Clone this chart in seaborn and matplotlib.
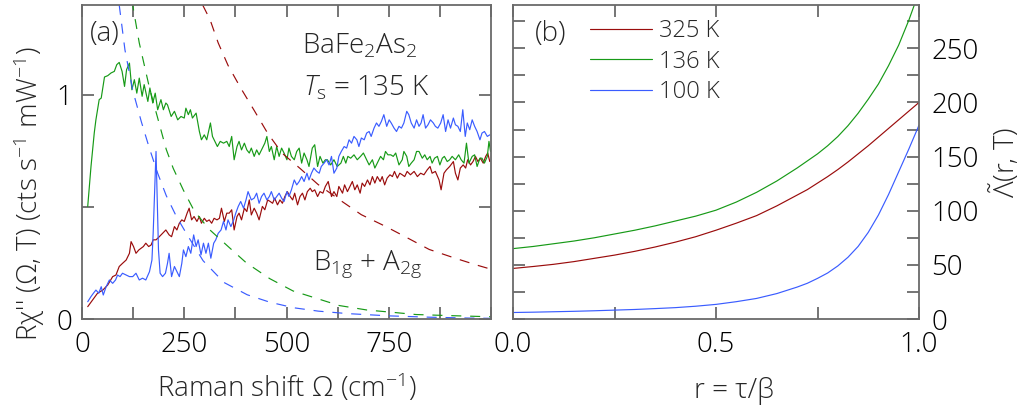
import matplotlib
matplotlib.use("Agg")
import matplotlib.pyplot as plt
import seaborn as sns

# ---------------- data: panel (a), Raman spectra ----------------
red_x = [14, 26, 38, 51, 63, 75, 83, 91, 99, 108, 116, 120, 126, 132, 139, 144, 150, 156, 163, 169, 174, 181, 189, 197, 205,
         213, 219, 226, 232, 238, 244, 250, 257, 262, 268, 274, 281, 287, 292, 299, 305, 311, 317, 323, 330, 336, 341, 348,
         354, 360, 366, 372, 379, 384, 390, 397, 403,
         409, 414, 421, 427, 433, 441, 447, 454, 460, 466, 471, 478, 484, 490, 496, 502, 509, 515, 520, 527, 533, 539, 545,
         551, 558, 563, 569, 576, 582, 589, 595, 602,
         610, 616, 623, 628, 637, 642, 649, 655, 661, 667, 673, 680, 685, 691, 698, 704, 710, 716, 722, 729, 734, 740, 746,
         753, 759, 764, 771, 777, 783, 789, 795,
         803, 812, 820, 828, 836, 844, 851, 856, 864, 873, 878, 885, 891, 899, 908, 913, 919, 925, 932, 938, 943, 950, 956,
         962, 968, 974, 981, 987, 992, 997]
red_y = [0.055, 0.085, 0.115, 0.129, 0.152, 0.189, 0.196, 0.234, 0.248, 0.263, 0.293, 0.345, 0.323, 0.293, 0.308, 0.315,
         0.323, 0.338, 0.323, 0.330, 0.353, 0.353, 0.367, 0.382, 0.397,
         0.375, 0.367, 0.412, 0.397, 0.427, 0.442, 0.435, 0.472, 0.494, 0.442, 0.457, 0.435, 0.457, 0.427, 0.449, 0.435,
         0.442, 0.427, 0.449, 0.442, 0.449, 0.494, 0.435, 0.472, 0.472, 0.487, 0.397, 0.457, 0.472, 0.442, 0.494, 0.479,
         0.531, 0.464, 0.494, 0.472, 0.442, 0.502, 0.487, 0.531, 0.524, 0.516, 0.539, 0.509, 0.531, 0.516, 0.546, 0.568,
         0.546, 0.531, 0.561, 0.509, 0.546, 0.561, 0.531, 0.568, 0.583, 0.568, 0.576, 0.546, 0.568, 0.561, 0.591, 0.613,
         0.546, 0.568, 0.546, 0.591, 0.561, 0.598, 0.568, 0.591, 0.613, 0.576, 0.598, 0.561, 0.606, 0.591, 0.620, 0.598,
         0.635, 0.606, 0.635, 0.613, 0.635, 0.598, 0.628, 0.643, 0.635, 0.658, 0.628, 0.650, 0.643, 0.635, 0.658,
         0.643, 0.658, 0.635, 0.650, 0.643, 0.665, 0.680, 0.650, 0.658, 0.620, 0.576, 0.650, 0.665, 0.680, 0.702, 0.650,
         0.620, 0.673, 0.687, 0.673, 0.710, 0.687, 0.702, 0.725, 0.702, 0.717, 0.695, 0.725, 0.740, 0.702]

green_x = [14, 22, 30, 34, 42, 47, 55, 63, 71, 79, 85, 91, 98, 104, 109, 116, 122, 128, 134, 140, 147, 152, 161, 166,
           173, 179, 185, 193, 199, 205,
           209, 218, 226, 234, 242, 250, 254, 260, 265, 270, 279, 287, 292, 299, 305, 314, 319, 325, 331, 338, 346, 354,
           360, 366, 372, 379, 384, 390, 397, 403,
           409, 414, 421, 427, 433, 441, 447, 452, 458, 463, 470, 476, 482, 488, 494, 501, 506, 512, 519, 525, 531, 537,
           543, 550, 555, 563, 569, 576, 582, 589, 595,
           600, 608, 616, 624, 633, 639, 645, 650, 657, 665, 673, 681, 688, 694, 702, 710, 716, 722, 730, 737, 742, 748,
           755, 761, 767, 775, 783, 787,
           794, 799, 805, 812, 818, 824, 832, 838, 844, 851, 856, 862, 869, 875, 881, 886, 893, 899, 905, 913, 921, 927,
           934, 940, 946, 954, 960, 966, 973, 978, 984, 991, 995, 999]
green_y = [0.502, 0.68, 0.83, 0.888, 0.978, 0.985, 1.079, 1.085, 1.097, 1.104, 1.134, 1.144, 1.104, 1.037, 1.112, 1.141,
           1.022, 1.067, 1.007, 1.074, 0.993, 1.045, 0.970, 1.030, 0.963, 1.007, 0.933, 0.978, 0.933, 0.963,
           0.955, 0.903, 0.926, 0.888, 0.903, 0.896, 0.940, 0.911, 0.933, 0.896, 0.918, 0.836, 0.799, 0.821, 0.799, 0.874,
           0.814, 0.792, 0.769, 0.792, 0.784, 0.792, 0.769, 0.814, 0.710, 0.769, 0.792, 0.754, 0.784, 0.754,
           0.740, 0.762, 0.725, 0.754, 0.732, 0.762, 0.784, 0.814, 0.747, 0.769, 0.710, 0.769, 0.725, 0.762, 0.740, 0.710,
           0.762, 0.725, 0.710, 0.747, 0.762, 0.695, 0.740, 0.710, 0.680, 0.762, 0.777, 0.680, 0.725, 0.695, 0.710,
           0.710, 0.687, 0.710, 0.680, 0.695, 0.725, 0.695, 0.725, 0.717, 0.732, 0.710, 0.725, 0.740, 0.717, 0.687, 0.710,
           0.673, 0.695, 0.725, 0.710, 0.747, 0.732, 0.732, 0.725, 0.740, 0.687, 0.710, 0.747,
           0.725, 0.680, 0.695, 0.710, 0.747, 0.747, 0.717, 0.732, 0.710, 0.725, 0.695, 0.717, 0.725, 0.687, 0.717, 0.725,
           0.702, 0.710, 0.725, 0.710, 0.732, 0.710, 0.695, 0.784, 0.695, 0.725, 0.732, 0.680, 0.717, 0.717, 0.695, 0.725,
           0.792, 0.747]

blue_x = [14, 22, 28, 34, 41, 47, 52, 59, 67, 75, 82, 87, 93, 99, 108, 116, 124, 132, 140, 148, 156, 165, 171, 174, 178,
          181, 184, 187, 191, 197, 204, 209, 213, 219, 226, 232, 238, 244, 248, 254, 260, 266, 273, 279, 284, 291, 297,
          303, 309, 315, 322, 327, 333, 340, 346, 352, 357, 364, 371, 376, 382, 388, 395, 401, 406,
          414, 421, 427, 433, 439, 445, 452, 458, 463, 470, 476, 482, 488, 494, 501, 506, 512, 519, 525, 531, 537, 543,
          550, 555, 561, 567, 574, 580, 585, 592, 598,
          604, 610, 616, 623, 628, 634, 641, 647, 653, 659, 665, 672, 677, 683, 690, 696, 702, 707, 714, 720, 726, 732,
          738, 745, 751, 756, 763, 769, 775, 781, 787, 794,
          799, 805, 812, 818, 824, 829, 834, 840, 846, 852, 859, 864, 870, 877, 883, 889, 895, 901, 908, 913, 919, 925,
          931, 937, 942, 948, 954, 960, 966, 973, 978, 984, 991, 997]
blue_y = [0.077, 0.100, 0.115, 0.129, 0.115, 0.144, 0.107, 0.144, 0.174, 0.159, 0.174, 0.196, 0.189, 0.204, 0.196, 0.189,
          0.189, 0.204, 0.174, 0.182, 0.174, 0.211, 0.263, 0.382, 0.591, 0.747, 0.531, 0.308, 0.204, 0.189, 0.204, 0.248,
          0.293, 0.189, 0.234, 0.211, 0.189, 0.248, 0.308, 0.278, 0.323, 0.293, 0.375, 0.323, 0.353, 0.286, 0.338, 0.293,
          0.338, 0.271, 0.338, 0.353, 0.382, 0.397, 0.435, 0.397, 0.442, 0.412, 0.442, 0.472, 0.502, 0.524, 0.494, 0.531,
          0.568,
          0.531, 0.539, 0.561, 0.516, 0.546, 0.561, 0.531, 0.546, 0.568, 0.531, 0.546, 0.561, 0.539, 0.524, 0.568, 0.546,
          0.576, 0.620, 0.598, 0.613, 0.635, 0.613, 0.650, 0.620, 0.650, 0.673, 0.658, 0.650, 0.680, 0.695, 0.710,
          0.687, 0.725, 0.650, 0.673, 0.725, 0.747, 0.769, 0.762, 0.799, 0.784, 0.814, 0.799, 0.769, 0.807, 0.799, 0.829,
          0.836, 0.814, 0.851, 0.874, 0.859, 0.881, 0.911, 0.859, 0.888, 0.874, 0.851, 0.836, 0.859, 0.851, 0.874, 0.926,
          0.911, 0.874, 0.851, 0.888, 0.859, 0.874, 0.911, 0.851, 0.866, 0.888, 0.874, 0.859, 0.851, 0.874, 0.911, 0.836,
          0.888, 0.851, 0.896, 0.866, 0.859, 0.836, 0.933, 0.814, 0.874, 0.844, 0.888, 0.859, 0.836, 0.799, 0.829, 0.836,
          0.814, 0.821]

# dashed reference curves
red_dash_x = [295, 313, 333, 357, 388, 421, 454, 489, 534, 577, 631, 683, 742, 787, 849, 914, 966, 1000]
red_dash_y = [1.40, 1.335, 1.231, 1.131, 1.030, 0.930, 0.828, 0.740, 0.670, 0.600, 0.530, 0.465, 0.413, 0.370, 0.310,
              0.270, 0.240, 0.222]
green_dash_x = [122, 140, 165, 184, 206, 223, 248, 275, 311, 358, 402, 459, 516, 577, 629, 697, 758, 816, 900, 1000]
green_dash_y = [1.42, 1.231, 1.03, 0.903, 0.756, 0.672, 0.574, 0.48, 0.40, 0.322, 0.25, 0.18, 0.125, 0.09, 0.06, 0.04,
                0.03, 0.02, 0.015, 0.01]
blue_dash_x = [91, 105, 124, 145, 165, 185, 206, 230, 254, 296, 347, 404, 459, 518, 578, 650, 750, 850, 950, 1000]
blue_dash_y = [1.40, 1.20, 1.02, 0.88, 0.76, 0.65, 0.55, 0.46, 0.385, 0.26, 0.163, 0.108, 0.075, 0.05, 0.035, 0.024,
               0.014, 0.008, 0.004, 0.003]

# ---------------- data: panel (b), Lambda(r, T) ----------------
r_vals = [0, 0.05, 0.1, 0.15, 0.2, 0.25, 0.3, 0.35, 0.4, 0.45, 0.5, 0.55, 0.6, 0.65,
          0.7, 0.725, 0.75, 0.775, 0.8, 0.825, 0.85, 0.875, 0.9, 0.925, 0.95, 0.975, 1.0]
lam_325 = [46.7, 48.5, 50.5, 53, 56, 59, 62.5, 66.5, 71, 76, 82, 88.5, 95.5, 104.5,
           114.5, 119.5, 125.5, 131.5, 138, 145, 152.5, 160, 168, 176, 184, 192, 200]
lam_136 = [65, 67, 69.5, 72, 75, 78.5, 82, 86, 90.5, 95, 100.5, 108, 117, 127.5,
           139.5, 146, 152.5, 160, 168.5, 178.5, 190, 203, 217, 234, 253, 276, 302]
lam_100 = [6, 6.3, 6.7, 7.1, 7.6, 8.2, 8.8, 9.6, 10.5, 11.8, 13.5, 16, 19, 23.5,
           29.5, 33, 37.5, 42.5, 49, 57, 67, 80, 96, 115, 136, 157, 179]
temp_labels = ["325 K", "136 K", "100 K"]

xa_ticks = [0, 125, 250, 375, 500, 625, 750, 875, 1000]
xa_labels = ["0", "", "250", "", "500", "", "750", "", ""]
ya_ticks = [0, 0.5, 1.0]
ya_labels = ["0", "", "1"]
xb_ticks = [0, 0.25, 0.5, 0.75, 1.0]
xb_labels = ["0.0", "", "0.5", "", "1.0"]
yb_ticks = list(range(0, 290, 25))
yb_labels = [str(v) if v % 50 == 0 else "" for v in yb_ticks]

RED = "#9a0c0c"
GREEN = "#179a17"
BLUE = "#3a5cff"
SPINE = "#6a6a6a"

sns.set_theme(style="ticks")
plt.rcParams["font.family"] = ["Open Sans", "DejaVu Sans"]
plt.rcParams["font.weight"] = "light"
plt.rcParams["mathtext.fontset"] = "custom"
plt.rcParams["mathtext.rm"] = "Open Sans:light"
plt.rcParams["mathtext.it"] = "Open Sans:italic:light"
plt.rcParams["mathtext.bf"] = "Open Sans:bold"

W, H = 1025, 412
fig = plt.figure(figsize=(W / 100, H / 100), dpi=100)


def fx(px):
    return px / W


def fy(py):
    return 1 - py / H


axa = fig.add_axes([fx(82), fy(319), fx(491 - 82), (319 - 5) / H])
axb = fig.add_axes([fx(513), fy(319), fx(919 - 513), (319 - 5) / H])

lw = 0.85
sns.lineplot(x=red_x, y=red_y, ax=axa, color=RED, lw=lw, estimator=None, sort=False)
sns.lineplot(x=green_x, y=green_y, ax=axa, color=GREEN, lw=lw, estimator=None, sort=False)
sns.lineplot(x=blue_x, y=blue_y, ax=axa, color=BLUE, lw=lw, estimator=None, sort=False)
dash = (0, (8.5, 7.5))
sns.lineplot(x=red_dash_x, y=red_dash_y, ax=axa, color=RED, lw=lw, linestyle=dash, estimator=None, sort=False)
sns.lineplot(x=green_dash_x, y=green_dash_y, ax=axa, color=GREEN, lw=lw, linestyle=dash, estimator=None, sort=False)
sns.lineplot(x=blue_dash_x, y=blue_dash_y, ax=axa, color=BLUE, lw=lw, linestyle=dash, estimator=None, sort=False)

sns.lineplot(x=r_vals, y=lam_325, ax=axb, color=RED, lw=lw, label=temp_labels[0], estimator=None, sort=False)
sns.lineplot(x=r_vals, y=lam_136, ax=axb, color=GREEN, lw=lw, label=temp_labels[1], estimator=None, sort=False)
sns.lineplot(x=r_vals, y=lam_100, ax=axb, color=BLUE, lw=lw, label=temp_labels[2], estimator=None, sort=False)

FS = 20
for ax in (axa, axb):
    for s in ax.spines.values():
        s.set_visible(True)
        s.set_color(SPINE)
        s.set_linewidth(1.3)
    ax.tick_params(direction="in", length=8.5, width=1.3, color=SPINE, labelsize=FS,
                   top=True, right=True, labelcolor="black")
    ax.set_xlabel("")
    ax.set_ylabel("")

axa.set_xlim(0, 1000)
axa.set_ylim(0, 1.4)
axa.set_xticks(xa_ticks, xa_labels)
axa.set_yticks(ya_ticks, ya_labels)
axa.tick_params(axis="x", pad=9)
axa.tick_params(axis="y", pad=7)

axb.set_xlim(0, 1)
axb.set_ylim(0, 290)
axb.set_xticks(xb_ticks, xb_labels)
axb.set_yticks(yb_ticks, yb_labels)
axb.tick_params(axis="x", pad=9)
axb.tick_params(axis="y", left=True, right=True, labelleft=False, labelright=True, pad=9)

leg = axb.legend(loc="upper left", bbox_to_anchor=(0.19, 0.955), frameon=False, fontsize=17,
                 handlelength=2.6, handletextpad=0.3, labelspacing=0.28, borderpad=0, borderaxespad=0)

# annotations
fig.text(fx(90), fy(41), "(a)", fontsize=FS, ha="left", va="baseline")
fig.text(fx(535), fy(41), "(b)", fontsize=FS, ha="left", va="baseline")
fig.text(fx(302), fy(53), r"BaFe$_2$As$_2$", fontsize=FS, ha="left", va="baseline")
fig.text(fx(303), fy(95), r"$T_\mathrm{s}$ = 135 K", fontsize=FS, ha="left", va="baseline")
fig.text(fx(313), fy(270), r"B$_{1\mathrm{g}}$ + A$_{2\mathrm{g}}$", fontsize=FS, ha="left", va="baseline")

fig.text(fx(287), fy(397), r"Raman shift Ω (cm$^{-1}$)", fontsize=FS, ha="center", va="baseline")
fig.text(fx(734), fy(398), "r = τ/β", fontsize=FS, ha="center", va="baseline")
fig.text(fx(29), fy(194), r"Rχ'' (Ω, T) (cts s$^{-1}$ mW$^{-1}$)", fontsize=FS, rotation=90,
         ha="center", va="center")
fig.text(fx(1005), fy(162), r"$\tilde{\Lambda}$(r, T)", fontsize=FS, rotation=90, ha="center", va="center")

fig.savefig("out.png", dpi=100)
